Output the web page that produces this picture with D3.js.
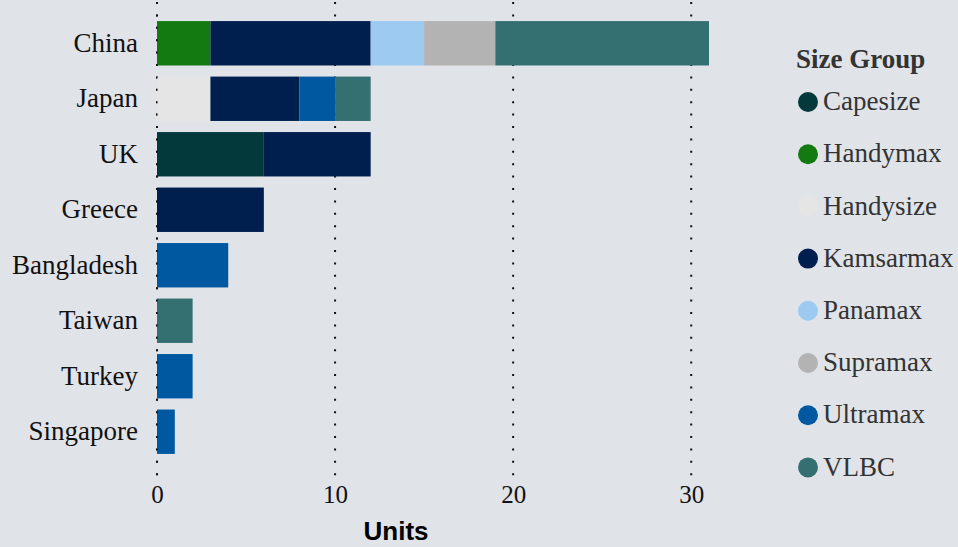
<!DOCTYPE html>
<html>
<head>
<meta charset="utf-8">
<script src="https://cdn.jsdelivr.net/npm/d3@7"></script>
<style>
  html, body { margin: 0; padding: 0; background: #e0e3e8; }
  svg { display: block; }
</style>
</head>
<body>
<svg id="chart" width="958" height="547"></svg>
<script>
// Countries (top to bottom) and fleet size groups
const countries = ["China", "Japan", "UK", "Greece", "Bangladesh", "Taiwan", "Turkey", "Singapore"];
const sizeGroups = ["Capesize", "Handymax", "Handysize", "Kamsarmax", "Panamax", "Supramax", "Ultramax", "VLBC"];
const groupColors = ["#03393b", "#137a11", "#e5e5e5", "#001f4e", "#9ccaf0", "#b3b3b3", "#0059a0", "#346f72"];

// Units per size group, one array per group, aligned with countries
const capesize  = [0, 0, 6, 0, 0, 0, 0, 0];
const handymax  = [3, 0, 0, 0, 0, 0, 0, 0];
const handysize = [0, 3, 0, 0, 0, 0, 0, 0];
const kamsarmax = [9, 5, 6, 6, 0, 0, 0, 0];
const panamax   = [3, 0, 0, 0, 0, 0, 0, 0];
const supramax  = [4, 0, 0, 0, 0, 0, 0, 0];
const ultramax  = [0, 2, 0, 0, 4, 0, 2, 1];
const vlbc      = [12, 2, 0, 0, 0, 2, 0, 0];

const xTicks = [0, 10, 20, 30];

const seriesValues = [capesize, handymax, handysize, kamsarmax, panamax, supramax, ultramax, vlbc];
// Stacking order within each bar
const stackOrder = ["Handymax", "Handysize", "Capesize", "Kamsarmax", "Panamax", "Supramax", "Ultramax", "VLBC"];

const rows = countries.map((c, i) => {
  const r = { country: c };
  sizeGroups.forEach((g, j) => { r[g] = seriesValues[j][i]; });
  return r;
});

const svg = d3.select("#chart");

const x = d3.scaleLinear().domain([0, 31]).range([157, 709]);
const y = d3.scaleBand().domain(countries).range([0, 475]).paddingInner(0.2).paddingOuter(0.38);
const color = d3.scaleOrdinal().domain(sizeGroups).range(groupColors);

// Dotted vertical grid
const grid = svg.append("g");
grid.selectAll("line").data(xTicks).join("line")
  .attr("x1", d => x(d)).attr("x2", d => x(d))
  .attr("y1", 2).attr("y2", 476)
  .attr("stroke", "#111").attr("stroke-width", 2)
  .attr("stroke-dasharray", "2,10.4");

// Stacked bars
const stack = d3.stack().keys(stackOrder);
const layers = stack(rows);
svg.append("g").selectAll("g").data(layers).join("g")
  .attr("fill", d => color(d.key))
  .selectAll("rect").data(d => d.filter(s => s[1] - s[0] > 0)).join("rect")
  .attr("x", d => x(d[0]))
  .attr("width", d => x(d[1]) - x(d[0]))
  .attr("y", d => y(d.data.country))
  .attr("height", y.bandwidth());

// Zero line dots sit over the bar edges
svg.append("line")
  .attr("x1", x(0)).attr("x2", x(0)).attr("y1", 2).attr("y2", 476)
  .attr("stroke", "#111").attr("stroke-width", 1.2)
  .attr("stroke-dasharray", "2,10.4");

// Category labels
const yAxis = d3.axisLeft(y).tickSize(0).tickPadding(19);
const yg = svg.append("g").attr("transform", `translate(${x(0)},0)`).call(yAxis);
yg.select(".domain").remove();
yg.selectAll("text")
  .attr("font-family", "'Liberation Serif', 'Times New Roman', serif")
  .attr("font-size", 27).attr("fill", "#111");

// Value axis labels
const xAxis = d3.axisBottom(x).tickValues(xTicks).tickSize(0).tickPadding(0);
const xg = svg.append("g").attr("transform", "translate(0,485)").call(xAxis);
xg.select(".domain").remove();
xg.selectAll("text")
  .attr("font-family", "'Liberation Serif', 'Times New Roman', serif")
  .attr("font-size", 25).attr("fill", "#111");

svg.append("text")
  .attr("x", 396).attr("y", 540)
  .attr("text-anchor", "middle")
  .attr("font-family", "'Liberation Sans', Arial, sans-serif")
  .attr("font-weight", "bold").attr("font-size", 26).attr("fill", "#000")
  .text("Units");

// Legend
const legend = svg.append("g");
legend.append("text")
  .attr("x", 796).attr("y", 68)
  .attr("font-family", "'Liberation Serif', 'Times New Roman', serif")
  .attr("font-weight", "bold").attr("font-size", 27).attr("fill", "#333")
  .text("Size Group");

const item = legend.selectAll("g.item").data(sizeGroups).join("g")
  .attr("class", "item")
  .attr("transform", (d, i) => `translate(808,${102 + i * 52.2})`);
item.append("circle").attr("r", 10).attr("fill", d => color(d));
item.append("text")
  .attr("x", 15).attr("dy", "0.3em")
  .attr("font-family", "'Liberation Serif', 'Times New Roman', serif")
  .attr("font-size", 27).attr("fill", "#333")
  .text(d => d);
</script>
</body>
</html>
